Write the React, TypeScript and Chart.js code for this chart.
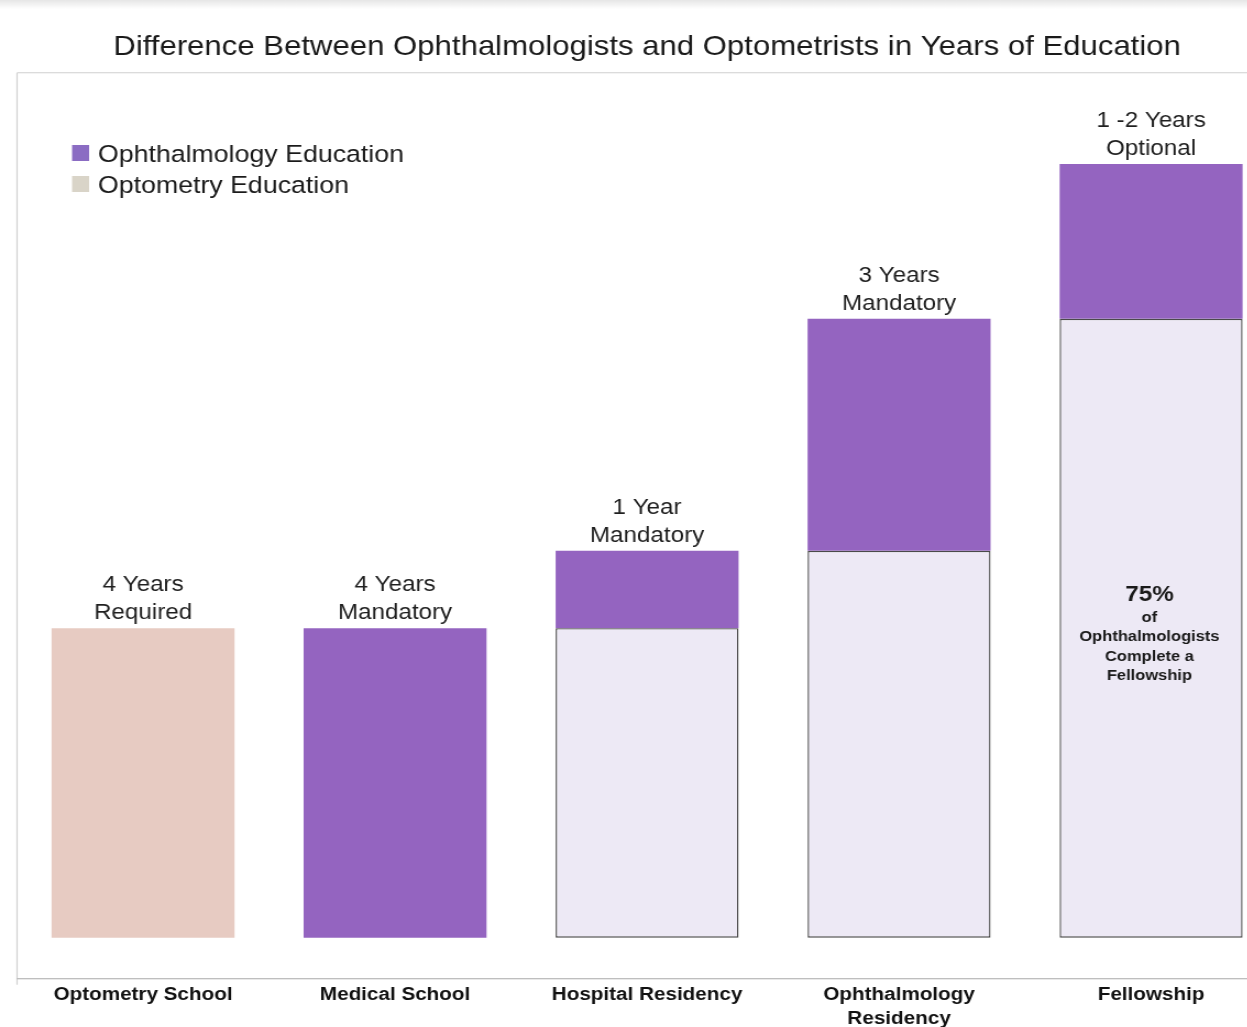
import React, { useEffect, useRef } from "react";
import { Chart, registerables } from "chart.js";

Chart.register(...registerables);

const categories: string[][] = [
  ["Optometry School"],
  ["Medical School"],
  ["Hospital Residency"],
  ["Ophthalmology", "Residency"],
  ["Fellowship"],
];
const optometryYears: (number | null)[] = [4, null, null, null, null];
const priorYears: (number | null)[] = [null, null, 4, 5, 8];
const ophthalmologyYears: (number | null)[] = [null, 4, 1, 3, 2];
const barLabels: string[][] = [
  ["4 Years", "Required"],
  ["4 Years", "Mandatory"],
  ["1 Year", "Mandatory"],
  ["3 Years", "Mandatory"],
  ["1 -2 Years", "Optional"],
];
const fellowshipNote: string[] = ["75%", "of", "Ophthalmologists", "Complete a", "Fellowship"];
const legendLabels: string[] = ["Ophthalmology Education", "Optometry Education"];
const legendColors: string[] = ["#8b6cc3", "#d9d4c8"];
const titleText = "Difference Between Ophthalmologists and Optometrists in Years of Education";

const FONT = "'Liberation Sans', Arial, sans-serif";
const SX = 1.1;
const CW = 1164;
const CH = 1027;

const decorPlugin = {
  id: "decor",
  beforeDraw(chart: any) {
    const { ctx, chartArea } = chart;
    ctx.save();
    const g = ctx.createLinearGradient(0, 0, 0, 9);
    g.addColorStop(0, "#e6e6e6");
    g.addColorStop(1, "#ffffff");
    ctx.fillStyle = g;
    ctx.fillRect(0, 0, chart.width, 9);
    ctx.strokeStyle = "#cfcfcf";
    ctx.lineWidth = 1.2;
    ctx.beginPath();
    ctx.moveTo(chartArea.left, chartArea.top);
    ctx.lineTo(chart.width, chartArea.top);
    ctx.moveTo(chartArea.left, chartArea.top);
    ctx.lineTo(chartArea.left, chartArea.bottom + 6);
    ctx.stroke();
    ctx.strokeStyle = "#a8a8a8";
    ctx.beginPath();
    ctx.moveTo(chartArea.left, chartArea.bottom);
    ctx.lineTo(chart.width, chartArea.bottom);
    ctx.stroke();
    ctx.restore();
  },
  afterDatasetsDraw(chart: any) {
    const { ctx } = chart;
    ctx.save();
    // legend
    legendLabels.forEach((lab, k) => {
      const cy = 153 + k * 31;
      ctx.fillStyle = legendColors[k];
      ctx.fillRect(65.5, cy - 8, 15.5, 16);
      ctx.fillStyle = "#1a1a1a";
      ctx.font = `24.3px ${FONT}`;
      ctx.textAlign = "left";
      ctx.textBaseline = "middle";
      ctx.fillText(lab, 89, cy + 2);
    });
    // labels above bars
    const n = categories.length;
    for (let i = 0; i < n; i++) {
      let top: number | null = null;
      let x = 0;
      for (let d = chart.data.datasets.length - 1; d >= 0; d--) {
        const v = chart.data.datasets[d].data[i];
        if (v !== null && v !== undefined) {
          const el = chart.getDatasetMeta(d).data[i];
          top = el.y;
          x = el.x;
          break;
        }
      }
      if (top === null) continue;
      ctx.fillStyle = "#1f1f1f";
      ctx.font = `22px ${FONT}`;
      ctx.textAlign = "center";
      ctx.textBaseline = "middle";
      const lines = barLabels[i];
      lines.forEach((t, j) => {
        const y = top! - 15 - (lines.length - 1 - j) * 28;
        ctx.fillText(t, x, y);
      });
    }
    // fellowship note centred in the base bar
    const baseMeta = chart.getDatasetMeta(1);
    const el = baseMeta.data[4];
    if (el) {
      const cy = (el.y + el.base) / 2;
      const offs = [-33, -10, 9, 29, 48];
      ctx.fillStyle = "#1a1a1a";
      ctx.textAlign = "center";
      ctx.textBaseline = "middle";
      fellowshipNote.forEach((t, j) => {
        ctx.font = j === 0 ? `bold 22px ${FONT}` : `bold 15px ${FONT}`;
        ctx.fillText(t, el.x - 1.5, cy + offs[j]);
      });
    }
    ctx.restore();
  },
};

export default function App() {
  const ref = useRef<HTMLCanvasElement | null>(null);
  useEffect(() => {
    document.body.style.margin = "0";
    document.body.style.overflow = "hidden";
    if (!ref.current) return;
    const chart = new Chart(ref.current, {
      type: "bar",
      data: {
        labels: categories,
        datasets: [
          {
            label: "Optometry Education",
            data: optometryYears,
            backgroundColor: "#e7cbc2",
            borderWidth: 0,
          },
          {
            label: "Prior Years",
            data: priorYears,
            backgroundColor: "#ede9f5",
            borderColor: "#4a4a4a",
            borderWidth: 1.4,
            borderSkipped: false,
          },
          {
            label: "Ophthalmology Education",
            data: ophthalmologyYears,
            backgroundColor: "#9464c0",
            borderWidth: 0,
          },
        ],
      },
      options: {
        responsive: false,
        animation: false,
        devicePixelRatio: 1,
        layout: { padding: { left: 15.5, right: 3, top: 0, bottom: -8 } },
        datasets: {
          bar: { categoryPercentage: 1, barPercentage: 0.726 },
        },
        scales: {
          x: {
            stacked: true,
            grid: { display: false, drawTicks: false },
            border: { display: false },
            ticks: {
              padding: 5,
              color: "#111",
              font: { family: FONT, size: 18.8, weight: "bold", lineHeight: 1.23 },
              maxRotation: 0,
              autoSkip: false,
            },
          },
          y: {
            stacked: true,
            display: false,
            min: -0.531,
            max: 11.18,
          },
        },
        plugins: {
          legend: { display: false },
          tooltip: { enabled: false },
          title: {
            display: true,
            text: titleText,
            color: "#1a1a1a",
            font: { family: FONT, size: 28.3, weight: "normal", lineHeight: 1.2 },
            padding: { top: 30, bottom: 8.8 },
          },
        },
      } as any,
      plugins: [decorPlugin],
    });
    return () => chart.destroy();
  }, []);
  return (
    <div style={{ width: 1247, height: 1027, overflow: "hidden", position: "relative", background: "#fff" }}>
      <div style={{ width: CW, height: CH, transform: `scaleX(${SX})`, transformOrigin: "0 0" }}>
        <canvas ref={ref} width={CW} height={CH} style={{ width: CW, height: CH, display: "block" }} />
      </div>
    </div>
  );
}
